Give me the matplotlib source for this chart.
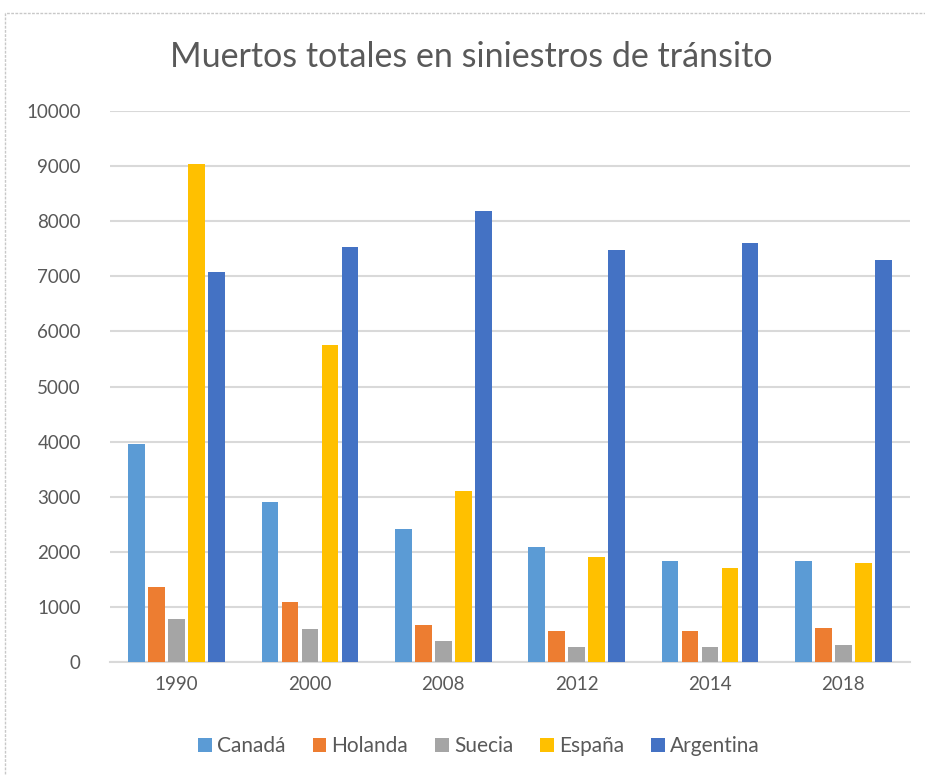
import matplotlib.pyplot as plt
import numpy as np
from matplotlib.patches import Rectangle

years = ['1990', '2000', '2008', '2012', '2014', '2018']
canada = [3950, 2900, 2420, 2090, 1840, 1840]
holanda = [1370, 1080, 680, 560, 560, 610]
suecia = [780, 600, 390, 270, 265, 310]
espana = [9030, 5760, 3110, 1910, 1700, 1800]
argentina = [7070, 7540, 8190, 7470, 7610, 7290]

series = [('Canadá', canada, '#5B9BD5'),
          ('Holanda', holanda, '#ED7D31'),
          ('Suecia', suecia, '#A5A5A5'),
          ('España', espana, '#FFC000'),
          ('Argentina', argentina, '#4472C4')]

plt.rcParams['font.family'] = ['Lato', 'DejaVu Sans']
txt = '#595959'

fig = plt.figure(figsize=(9.25, 7.75), dpi=100)
# chart area border
fig.patches.append(Rectangle((5 / 925, -0.01), 1.0, 1 - 13 / 775 + 0.01,
                             transform=fig.transFigure, fill=False,
                             edgecolor='#C8C8C8', lw=1, ls=(0, (2, 1))))

ax = fig.add_axes([110 / 925, 1 - 662 / 775, 800 / 925, 551 / 775])
x = np.arange(len(years))
step = 0.15
width = 0.125
for i, (name, vals, col) in enumerate(series):
    ax.bar(x + (i - 2) * step, vals, width, color=col, label=name, zorder=3)

ax.set_xlim(-0.5, len(years) - 0.5)
ax.set_ylim(0, 10000)
ax.set_yticks(np.arange(0, 10001, 1000))
ax.set_xticks(x)
ax.set_xticklabels(years)
ax.yaxis.grid(True, color='#D9D9D9', lw=1.5, zorder=0)
for s in ['top', 'right', 'left']:
    ax.spines[s].set_visible(False)
ax.spines['bottom'].set_color('#D9D9D9')
ax.spines['bottom'].set_linewidth(1.5)
ax.tick_params(axis='both', length=0, labelsize=13.5, colors=txt)
ax.tick_params(axis='y', pad=21)
ax.tick_params(axis='x', pad=10)

fig.text(471 / 925, 1 - 57 / 775, 'Muertos totales en siniestros de tránsito',
         ha='center', va='center', fontsize=24.5, color=txt)

ax.legend(loc='center', bbox_to_anchor=(479 / 925, 1 - 746 / 775),
          bbox_transform=fig.transFigure, ncol=5, frameon=False,
          fontsize=15, labelcolor=txt, handlelength=0.65, handleheight=0.65,
          handletextpad=0.25, columnspacing=1.3)

fig.savefig('out.png', dpi=100, facecolor='white')
